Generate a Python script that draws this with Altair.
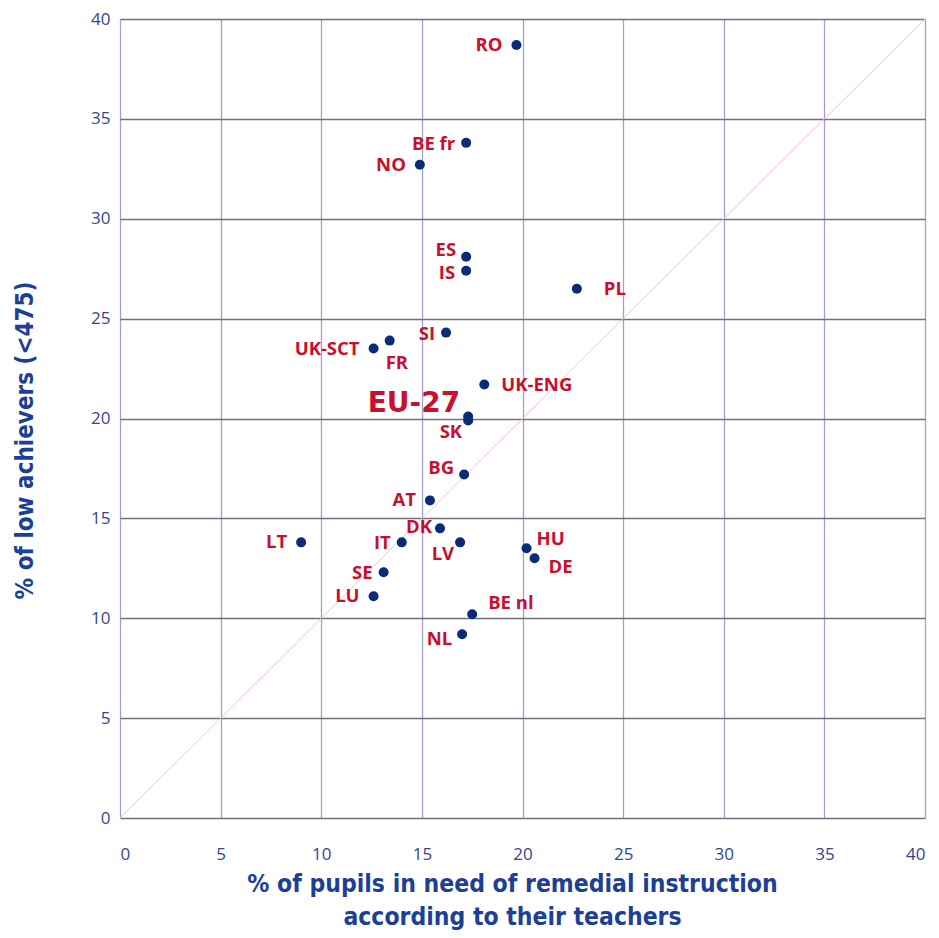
import altair as alt
import pandas as pd

# ---- data ----
countries = ["RO", "BE fr", "NO", "ES", "IS", "PL", "SI", "FR", "UK-SCT", "UK-ENG",
             "EU-27", "SK", "BG", "AT", "DK", "LT", "IT", "LV", "HU", "DE",
             "SE", "LU", "BE nl", "NL"]
remedial = [19.7, 17.2, 14.9, 17.2, 17.2, 22.7, 16.2, 13.4, 12.6, 18.1,
            17.3, 17.3, 17.1, 15.4, 15.9, 9.0, 14.0, 16.9, 20.2, 20.6,
            13.1, 12.6, 17.5, 17.0]
low_ach = [38.7, 33.8, 32.7, 28.1, 27.4, 26.5, 24.3, 23.9, 23.5, 21.7,
           20.1, 19.9, 17.2, 15.9, 14.5, 13.8, 13.8, 13.8, 13.5, 13.0,
           12.3, 11.1, 10.2, 9.2]
diag_vals = [0, 40]
ticks = [0, 5, 10, 15, 20, 25, 30, 35, 40]

df = pd.DataFrame({"country": countries, "x": remedial, "y": low_ach})
diag = pd.DataFrame({"x": diag_vals, "y": diag_vals})

POINT = "#0b2a78"
LABEL = "#c8102e"
TITLE = "#1e3f96"
TICK = "#33458e"
HGRID = "#707080"
VGRID = "#a0a0cc"
TITLE_FONT = "Liberation Sans Narrow, Arial Narrow, DejaVu Sans Condensed, sans-serif"

xs = alt.Scale(domain=[0, 40], nice=False)
ys = alt.Scale(domain=[0, 40], nice=False)

xax = alt.Axis(values=ticks, grid=True, gridColor=VGRID, gridWidth=1.3, gridOpacity=1,
               domain=False, ticks=False, labelPadding=28, labelFontSize=17,
               labelFont="Open Sans", labelColor=TICK,
               title=["% of pupils in need of remedial instruction", "according to their teachers"],
               titleFont=TITLE_FONT, titleFontSize=24.5, titleColor=TITLE, titleFontWeight="bold",
               titleLineHeight=33, titlePadding=10, titleX=392, titleAlign="center")
yax = alt.Axis(values=ticks, grid=True, gridColor=HGRID, gridWidth=1.3, gridOpacity=1,
               domain=False, ticks=False, labelPadding=10, labelFontSize=17,
               labelFont="Open Sans", labelColor=TICK,
               title="% of low achievers (<475)",
               titleFont=TITLE_FONT, titleFontSize=24, titleColor=TITLE, titleFontWeight="bold",
               titleX=-95, titleY=421, titleAngle=-90, titleAlign="center", titleBaseline="middle")

base = alt.Chart(df)

line = alt.Chart(diag).mark_line(color="#f2c4c4", strokeWidth=1).encode(
    x=alt.X("x:Q", scale=xs, axis=xax),
    y=alt.Y("y:Q", scale=ys, axis=yax),
)

pts = base.mark_circle(size=100, color=POINT, opacity=1).encode(
    x=alt.X("x:Q", scale=xs),
    y=alt.Y("y:Q", scale=ys),
)

# label placement groups (layout only)
groups = [
    (["RO", "NO", "UK-SCT", "AT", "LT", "LU"], "right", -14, 0),
    (["BE fr", "SI", "IT", "SE"], "right", -11, 1),
    (["IS"], "right", -11, 2),
    (["DK"], "right", -8, -1),
    (["ES"], "right", -10, -7),
    (["BG"], "right", -10, -6),
    (["SK", "LV"], "right", -6, 12),
    (["NL"], "right", -10, 5),
    (["FR"], "left", -4, 22),
    (["PL"], "left", 27, 0),
    (["UK-ENG"], "left", 17, 0),
    (["HU"], "left", 10, -9),
    (["DE"], "left", 14, 9),
    (["BE nl"], "left", 16, -11),
]

layers = [line, pts]
for names, align, dx, dy in groups:
    layers.append(
        base.transform_filter(alt.FieldOneOfPredicate(field="country", oneOf=names))
        .mark_text(align=align, baseline="middle", dx=dx, dy=dy, font="Open Sans",
                   fontWeight="bold", fontSize=18.5, color=LABEL)
        .encode(x=alt.X("x:Q", scale=xs), y=alt.Y("y:Q", scale=ys), text="country:N")
    )
layers.append(
    base.transform_filter(alt.FieldEqualPredicate(field="country", equal="EU-27"))
    .mark_text(align="right", baseline="middle", dx=-8, dy=-13, font="DejaVu Sans",
               fontWeight="bold", fontSize=28, color=LABEL)
    .encode(x=alt.X("x:Q", scale=xs), y=alt.Y("y:Q", scale=ys), text="country:N")
)

chart = alt.layer(*layers).properties(
    width=805, height=799,
    autosize=alt.AutoSizeParams(type="none"),
    padding={"left": 112, "top": 11, "right": 6, "bottom": 120},
    background="white",
).configure_view(stroke=None)

chart.save("out.html", embed_options={"renderer": "svg", "actions": False})
